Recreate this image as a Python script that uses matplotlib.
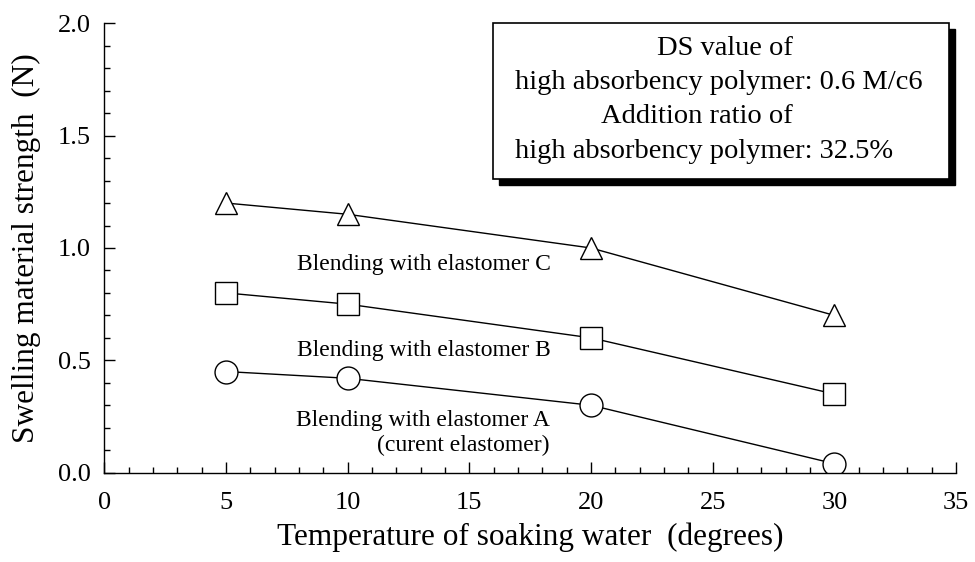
import matplotlib
matplotlib.use("Agg")
import matplotlib.pyplot as plt
from matplotlib.patches import Rectangle
from matplotlib.ticker import MultipleLocator, FormatStrFormatter

plt.rcParams['font.family'] = ['Liberation Serif', 'DejaVu Serif']

temps = [5, 10, 20, 30]
strength_c = [1.2, 1.15, 1.0, 0.7]
strength_b = [0.8, 0.75, 0.6, 0.35]
strength_a = [0.45, 0.42, 0.3, 0.04]

label_c = "Blending with elastomer C"
label_b = "Blending with elastomer B"
label_a = "Blending with elastomer A\n(curent elastomer)"
xlabel = "Temperature of soaking water  (degrees)"
ylabel = "Swelling material strength  (N)"
box_lines = ["DS value of", "high absorbency polymer: 0.6 M/c6",
             "Addition ratio of", "high absorbency polymer: 32.5%"]

fig = plt.figure(figsize=(9.75, 5.62), dpi=100)
ax = fig.add_axes([0.107, 0.159, 0.8735, 0.7995])

mk = dict(color='black', linewidth=1.0, markerfacecolor='white',
          markeredgecolor='black', markeredgewidth=1.0, markersize=16.5)
ax.plot(temps, strength_c, marker='^', **mk)
ax.plot(temps, strength_b, marker='s', **mk)
ax.plot(temps, strength_a, marker='o', **mk)

ax.set_xlim(0, 35)
ax.set_ylim(0, 2.0)
ax.xaxis.set_major_locator(MultipleLocator(5))
ax.xaxis.set_minor_locator(MultipleLocator(1))
ax.yaxis.set_major_locator(MultipleLocator(0.5))
ax.yaxis.set_minor_locator(MultipleLocator(0.1))
ax.yaxis.set_major_formatter(FormatStrFormatter('%.1f'))
ax.spines['top'].set_visible(False)
ax.spines['right'].set_visible(False)
ax.spines['left'].set_linewidth(1.0)
ax.spines['bottom'].set_linewidth(1.0)
ax.tick_params(which='both', direction='in', labelsize=19, width=1.0)
ax.tick_params(which='major', length=8)
ax.tick_params(which='minor', length=4.3)
ax.tick_params(axis='x', which='major', pad=14)
ax.tick_params(axis='y', which='major', pad=10)

ax.set_xlabel(xlabel, fontsize=22.5, labelpad=6)
ax.set_ylabel(ylabel, fontsize=22.5, labelpad=12)

ax.text(7.90, 0.902, label_c, fontsize=17, ha='left', va='baseline')
ax.text(7.90, 0.519, label_b, fontsize=17, ha='left', va='baseline')
ax.text(18.30, 0.098, label_a, fontsize=17, ha='right', va='baseline',
        multialignment='right', linespacing=1.22)

# annotation box with drop shadow
bx0, bx1, by0, by1 = 15.96, 34.73, 1.307, 2.0
shadow = Rectangle((bx0 + 0.246, by0 - 0.027), bx1 - bx0, by1 - by0,
                   facecolor='black', edgecolor='black', clip_on=False, zorder=3)
box = Rectangle((bx0, by0), bx1 - bx0, by1 - by0,
                facecolor='white', edgecolor='black', linewidth=1.2,
                clip_on=False, zorder=4)
ax.add_patch(shadow)
ax.add_patch(box)
ax.text(28.3, 1.859, box_lines[0], fontsize=20.5, ha='right', va='baseline', zorder=5)
ax.text(16.87, 1.707, box_lines[1], fontsize=20.5, ha='left', va='baseline', zorder=5)
ax.text(28.3, 1.555, box_lines[2], fontsize=20.5, ha='right', va='baseline', zorder=5)
ax.text(16.87, 1.399, box_lines[3], fontsize=20.5, ha='left', va='baseline', zorder=5)

fig.savefig("out.png", dpi=100)
